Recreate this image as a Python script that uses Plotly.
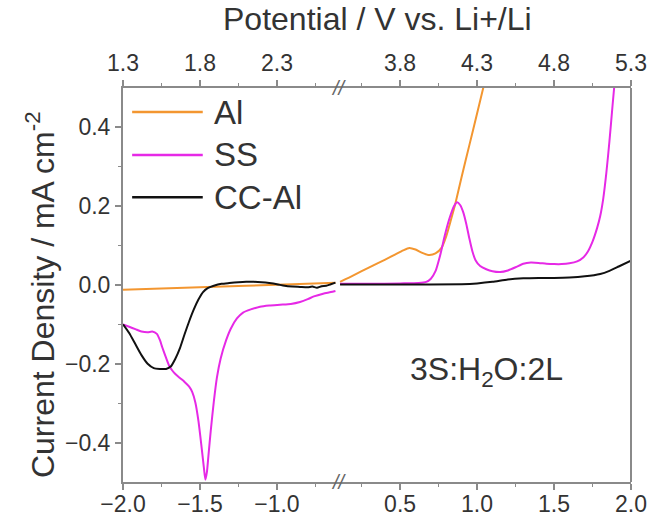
import plotly.graph_objects as go

# ---- data: current density (mA cm^-2) vs potential (V), broken axis ----
# left window (V vs. reference, -2.0 ... -0.6)
al_left_v = [-2.0, -1.6, -1.2, -0.9, -0.62]
al_left_j = [-0.012, -0.007, -0.002, 0.002, 0.006]

ss_left_v = [-2.0, -1.96, -1.92, -1.88, -1.84, -1.81, -1.78, -1.76, -1.745, -1.72, -1.70,
             -1.68, -1.66, -1.63, -1.60, -1.57, -1.55, -1.53, -1.51, -1.49, -1.475, -1.465,
             -1.455, -1.445, -1.43, -1.41, -1.39, -1.366, -1.33, -1.30, -1.26, -1.22, -1.17,
             -1.11, -1.05, -0.98, -0.91, -0.85, -0.80, -0.76, -0.70, -0.65, -0.62]
ss_left_j = [-0.100, -0.106, -0.112, -0.118, -0.120, -0.118, -0.124, -0.140, -0.158, -0.185,
             -0.205, -0.217, -0.226, -0.236, -0.246, -0.258, -0.272, -0.298, -0.345, -0.410,
             -0.462, -0.494, -0.475, -0.433, -0.370, -0.296, -0.235, -0.187, -0.140, -0.111,
             -0.085, -0.070, -0.062, -0.055, -0.052, -0.050, -0.048, -0.043, -0.036, -0.029,
             -0.022, -0.018, -0.015]

cc_left_v = [-2.0, -1.96, -1.92, -1.88, -1.84, -1.80, -1.76, -1.72, -1.69, -1.66, -1.63,
             -1.60, -1.57, -1.54, -1.51, -1.48, -1.45, -1.41, -1.36, -1.31, -1.25, -1.20,
             -1.15, -1.10, -1.05, -1.00, -0.95, -0.90, -0.85, -0.80, -0.77, -0.74, -0.71,
             -0.68, -0.65, -0.62]
cc_left_j = [-0.100, -0.122, -0.150, -0.178, -0.200, -0.211, -0.213, -0.213, -0.207, -0.187,
             -0.160, -0.125, -0.092, -0.062, -0.037, -0.018, -0.008, -0.002, 0.003, 0.005,
             0.007, 0.008, 0.008, 0.007, 0.005, 0.002, -0.002, -0.004, -0.005, -0.006,
             -0.004, -0.007, -0.003, -0.002, 0.002, 0.006]

# right window (0.1 ... 2.0)
al_right_v = [0.11, 0.2, 0.3, 0.4, 0.47, 0.52, 0.56, 0.60, 0.64, 0.69, 0.73, 0.77, 0.80,
              0.83, 0.86, 0.90, 0.95, 1.0, 1.04, 1.06]
al_right_j = [0.008, 0.025, 0.045, 0.064, 0.078, 0.088, 0.094, 0.090, 0.082, 0.076, 0.080,
              0.095, 0.124, 0.165, 0.208, 0.275, 0.355, 0.435, 0.500, 0.530]

ss_right_v = [0.11, 0.3, 0.5, 0.62, 0.67, 0.70, 0.73, 0.76, 0.79, 0.82, 0.85, 0.87, 0.89,
              0.91, 0.93, 0.95, 0.97, 0.99, 1.02, 1.06, 1.10, 1.15, 1.20, 1.25, 1.30, 1.35,
              1.40, 1.45, 1.50, 1.55, 1.60, 1.65, 1.69, 1.72, 1.75, 1.78, 1.80, 1.82, 1.84,
              1.86, 1.88, 1.895]
ss_right_j = [0.003, 0.003, 0.004, 0.005, 0.008, 0.016, 0.035, 0.075, 0.125, 0.168, 0.200,
              0.210, 0.203, 0.185, 0.155, 0.118, 0.085, 0.063, 0.048, 0.040, 0.035, 0.033,
              0.037, 0.045, 0.054, 0.057, 0.056, 0.054, 0.053, 0.053, 0.055, 0.060, 0.070,
              0.085, 0.110, 0.145, 0.175, 0.220, 0.285, 0.365, 0.455, 0.520]

cc_right_v = [0.11, 0.5, 0.9, 1.0, 1.1, 1.2, 1.3, 1.4, 1.5, 1.6, 1.7, 1.8, 1.86, 1.92, 2.0]
cc_right_j = [0.001, 0.001, 0.002, 0.004, 0.008, 0.014, 0.017, 0.018, 0.018, 0.019, 0.022,
              0.028, 0.036, 0.047, 0.062]

series_names = ["Al", "SS", "CC-Al"]
series_colors = ["#F39630", "#E629E6", "#111111"]

# axis windows and ticks
left_range = [-2.0, -0.6]
right_range = [0.1, 2.0]
li_offset = 3.3          # V vs. Li+/Li = V + 3.3
bottom_left_ticks = [-2.0, -1.5, -1.0]
bottom_right_ticks = [0.5, 1.0, 1.5, 2.0]
top_left_ticks = [1.3, 1.8, 2.3]
top_right_ticks = [3.8, 4.3, 4.8, 5.3]
y_ticks = [-0.4, -0.2, 0.0, 0.2, 0.4]
y_minor = [-0.3, -0.1, 0.1, 0.3]
y_range = [-0.5, 0.5]

# ---- figure ----
left_span = left_range[1] - left_range[0]
right_span = right_range[1] - right_range[0]
brk = left_span / (left_span + right_span)

axis_grey = "#8a8a8a"
text_col = "#333333"
FONT = "Liberation Sans, Arial, sans-serif"

fig = go.Figure()
left = [(al_left_v, al_left_j), (ss_left_v, ss_left_j), (cc_left_v, cc_left_j)]
right = [(al_right_v, al_right_j), (ss_right_v, ss_right_j), (cc_right_v, cc_right_j)]
for name, col, (lv, lj), (rv, rj) in zip(series_names, series_colors, left, right):
    fig.add_trace(go.Scatter(x=lv, y=lj, xaxis="x", yaxis="y", mode="lines", name=name,
                             line=dict(color=col, width=2, shape="spline", smoothing=0.6),
                             showlegend=False))
    fig.add_trace(go.Scatter(x=rv, y=rj, xaxis="x2", yaxis="y", mode="lines", name=name,
                             line=dict(color=col, width=2, shape="spline", smoothing=0.6),
                             showlegend=False))

# empty carriers so the Li+/Li scales on top are laid out
for ax, ticks in (("x3", top_left_ticks), ("x4", top_right_ticks)):
    fig.add_trace(go.Scatter(x=ticks, y=[None] * len(ticks), xaxis=ax, yaxis="y",
                             mode="lines", showlegend=False, hoverinfo="skip"))


def minor_vals(lo, hi, step, majors):
    vals = []
    k = 0
    v = lo
    while v <= hi + 1e-9:
        if all(abs(v - m) > 1e-6 for m in majors):
            vals.append(round(v, 4))
        k += 1
        v = lo + k * step
    return vals


def xax(domain, rng, ticks, side, minor_start, overlay=None, standoff=0):
    d = dict(range=rng, side=side, anchor="y", tickmode="array", tickvals=ticks,
             tickformat=".1f", ticks="outside", ticklen=6, tickwidth=1.5, tickcolor=axis_grey,
             showline=True, linecolor=axis_grey, linewidth=2, showgrid=False, zeroline=False,
             tickfont=dict(size=23, color=text_col, family=FONT), automargin=False,
             ticklabelstandoff=standoff,
             minor=dict(ticks="outside", ticklen=3, tickwidth=1.2, tickcolor=axis_grey,
                        tickmode="array",
                        tickvals=minor_vals(minor_start, rng[1], 0.25, ticks)))
    if overlay:
        d["overlaying"] = overlay
    else:
        d["domain"] = domain
    return d


fig.update_layout(
    width=662, height=518,
    margin=dict(l=123, r=31, t=88, b=36),
    paper_bgcolor="white", plot_bgcolor="white",
    font=dict(family=FONT, color=text_col),
    xaxis=xax([0, brk], left_range, bottom_left_ticks, "bottom", -2.0, standoff=-6),
    xaxis2=xax([brk, 1], right_range, bottom_right_ticks, "bottom", 0.25, standoff=-6),
    xaxis3=xax(None, [left_range[0] + li_offset, left_range[1] + li_offset],
               top_left_ticks, "top", 1.3, overlay="x"),
    xaxis4=xax(None, [right_range[0] + li_offset, right_range[1] + li_offset],
               top_right_ticks, "top", 3.55, overlay="x2"),
    yaxis=dict(range=y_range, anchor="x", tickmode="array", tickvals=y_ticks,
               tickformat=".1f", ticks="outside", ticklen=6, tickwidth=1.5,
               tickcolor=axis_grey, showline=True, linecolor=axis_grey, linewidth=2,
               showgrid=False, zeroline=False, automargin=False,
               tickfont=dict(size=23, color=text_col, family=FONT),
               minor=dict(ticks="outside", ticklen=3, tickwidth=1.2, tickcolor=axis_grey,
                          tickmode="array", tickvals=y_minor)),
    showlegend=False,
)

# right frame line
fig.add_shape(type="line", xref="paper", yref="paper", x0=1, x1=1, y0=0, y1=1,
              line=dict(color=axis_grey, width=2))

# axis-break marks
for yb in (0, 1):
    fig.add_annotation(x=brk, y=yb, xref="paper", yref="paper", text="<i>//</i>",
                       showarrow=False, font=dict(size=20, color="#666666", family=FONT),
                       xanchor="center", yanchor="middle")

# axis titles
fig.add_annotation(x=0.5, y=1.175, xref="paper", yref="paper",
                   text="Potential / V vs. Li+/Li", showarrow=False,
                   font=dict(size=32, color=text_col, family=FONT), yanchor="middle")
fig.add_annotation(x=-0.163, y=0.475, xref="paper", yref="paper",
                   text="Current Density / mA cm<sup>-2</sup>", textangle=-90,
                   showarrow=False, font=dict(size=32, color=text_col, family=FONT),
                   xanchor="center", yanchor="middle")

# composition label
fig.add_annotation(x=0.715, y=0.28, xref="paper", yref="paper",
                   text="3S:H<sub>2</sub>O:2L", showarrow=False,
                   font=dict(size=32, color=text_col, family=FONT),
                   xanchor="center", yanchor="middle")

# legend
legend_y = [0.939, 0.830, 0.723]
for name, col, ly in zip(series_names, series_colors, legend_y):
    fig.add_shape(type="line", xref="paper", yref="paper", x0=0.018, x1=0.157, y0=ly, y1=ly,
                  line=dict(color=col, width=2.5))
    fig.add_annotation(x=0.175, y=ly, xref="paper", yref="paper", text=name,
                       showarrow=False, xanchor="left", yanchor="middle",
                       font=dict(size=33, color=text_col, family=FONT))

fig.write_html("out.html")
